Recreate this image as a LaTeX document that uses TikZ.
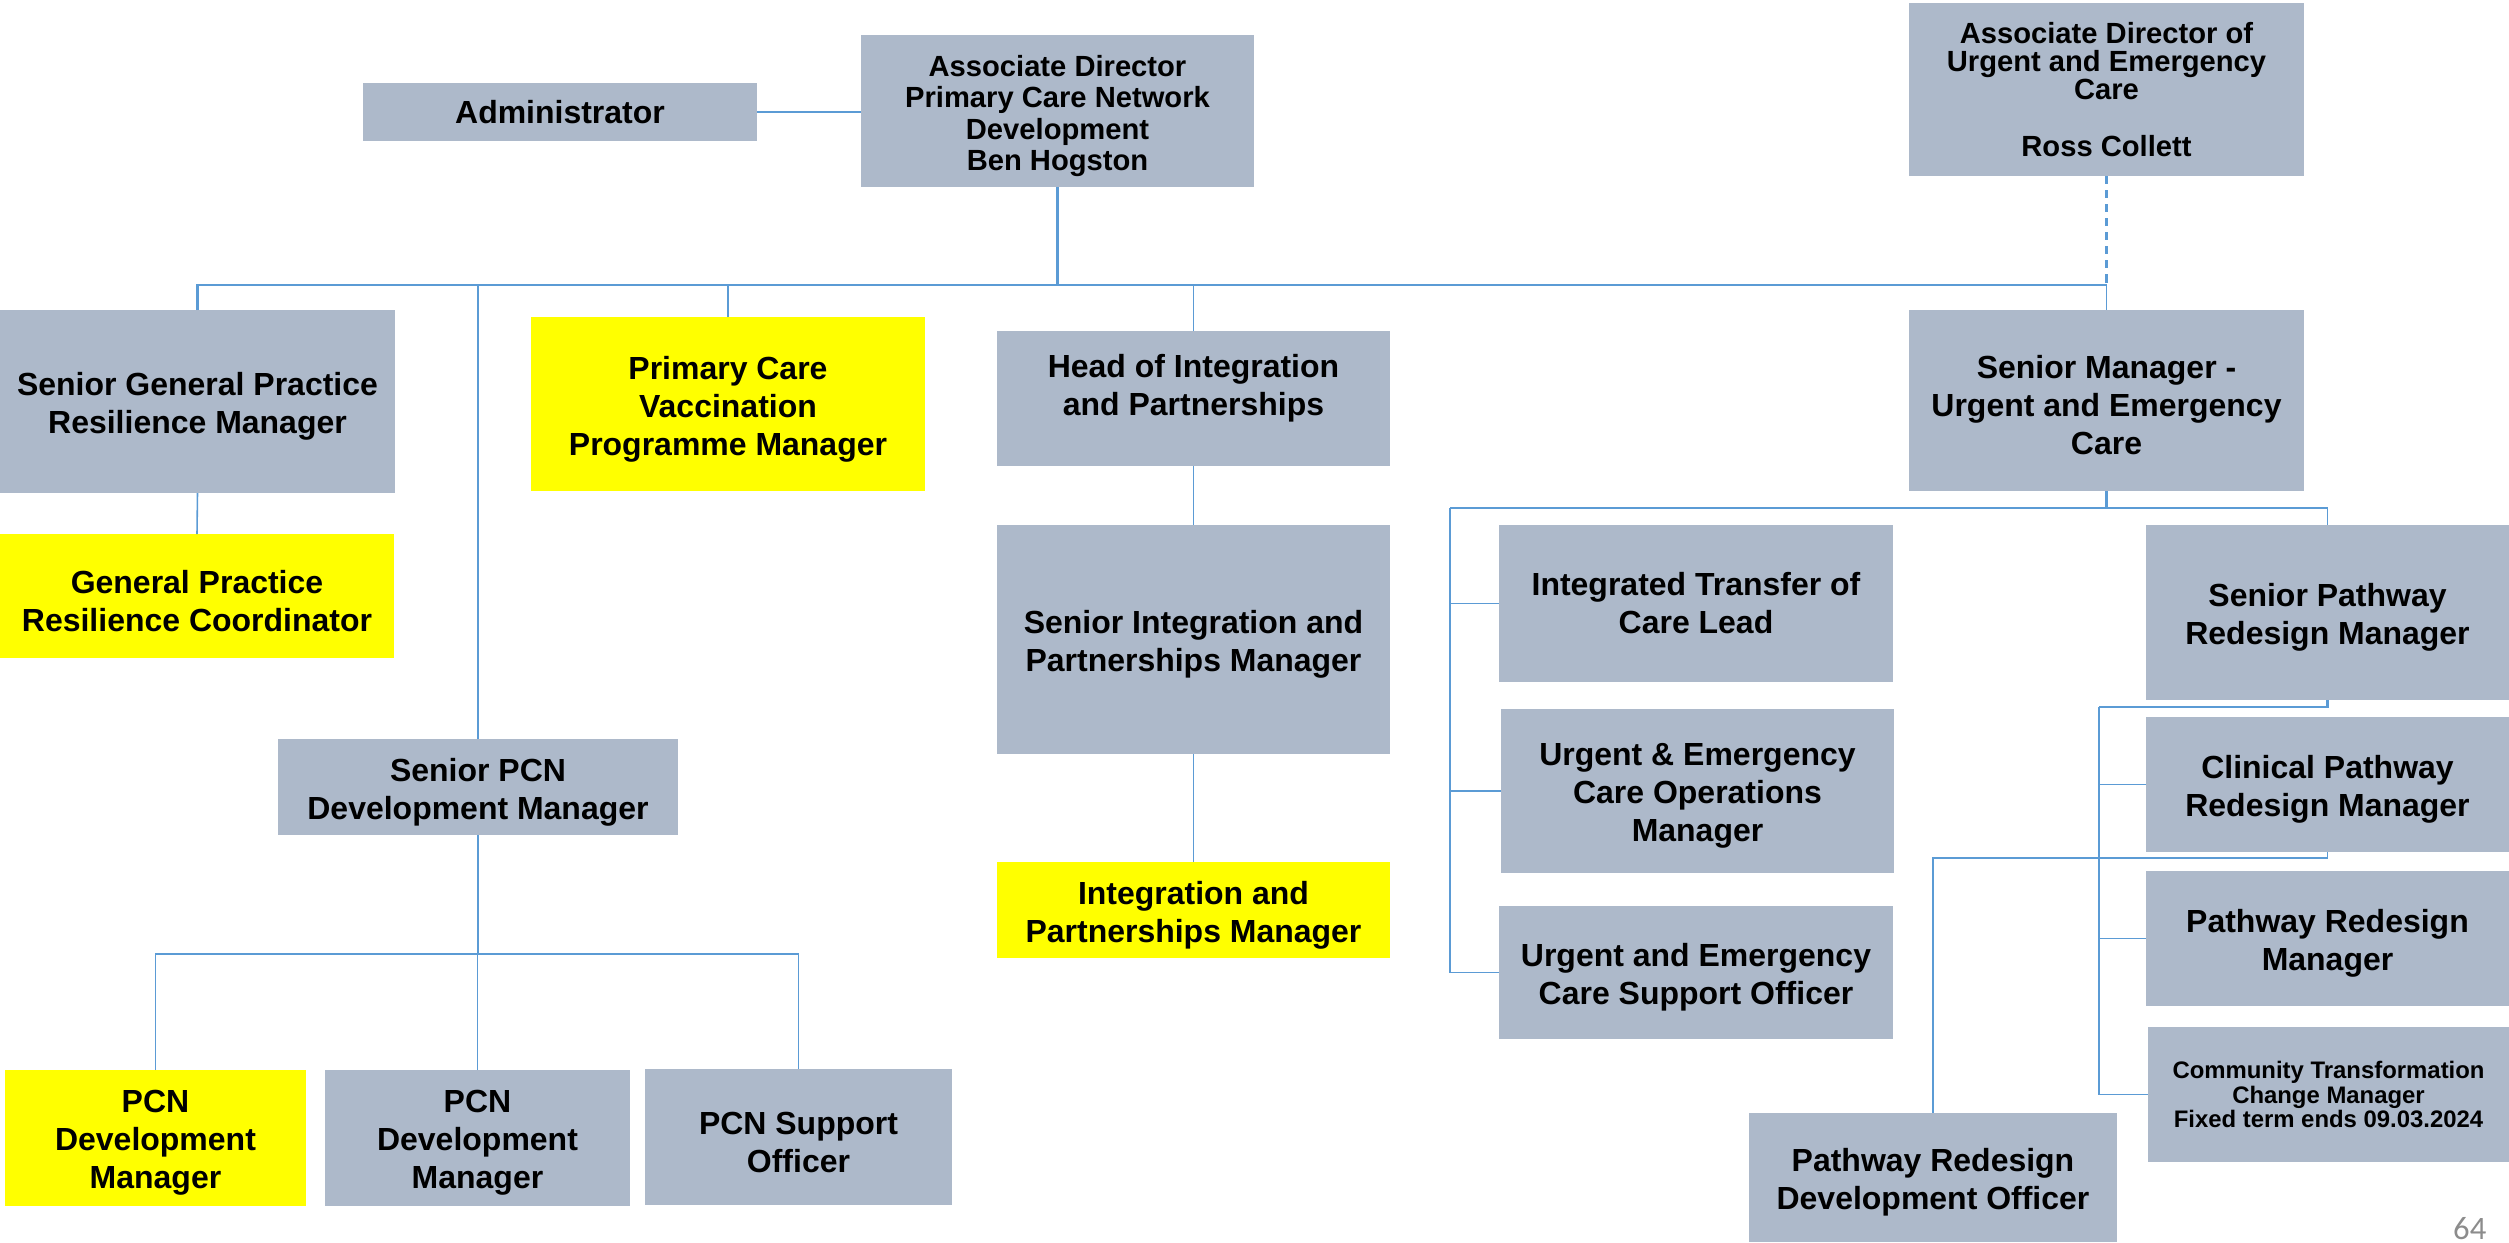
\documentclass[tikz,border=0pt]{standalone}
\usepackage{fontspec}
\setmainfont{Liberation Sans}
\newfontfamily\pgnum{Carlito}
\usepackage{xcolor}
\usepackage{tikz}
\usetikzlibrary{calc}
\definecolor{boxg}{HTML}{ADB9CA}
\definecolor{boxy}{HTML}{FFFF00}
\definecolor{linec}{HTML}{5B9BD5}
\definecolor{pgc}{HTML}{8C8C8C}
\tikzset{
  gb/.style={rectangle,fill=boxg,inner sep=1pt,outer sep=0pt,align=center,font=\bfseries\fontsize{9.1}{10.8}\selectfont},
  yb/.style={gb,fill=boxy},
  tx/.style={yshift=-0.5mm},
  ns/.style={tx/.style={}},
  sm/.style={font=\bfseries\fontsize{8.3}{9}\selectfont},
  xs/.style={ns,font=\bfseries\fontsize{8.3}{8}\selectfont},
  tn/.style={ns,font=\bfseries\fontsize{6.8}{6.9}\selectfont},
  ln/.style={draw=linec,line width=0.45pt},
  lnb/.style={ln,line width=0.7pt}
}
% name, style, x1, y1, x2, y2, text
\newcommand{\role}[7]{%
  \node[#2,minimum width={(#5-#3)*0.1mm},minimum height={(#6-#4)*0.1mm}] (#1) at ({(#3+#5)/2},{(#4+#6)/2}) {};
  \node[#2,fill=none,tx] at (#1.center) {#7};}

\begin{document}
\begin{tikzpicture}[x=0.1mm,y=-0.1mm]
\useasboundingbox (0,0) rectangle (2509,1242);
\role{adm}{gb,ns}{363}{83}{757}{141}{Administrator}
\role{ben}{gb,sm}{861}{35}{1254}{187}{Associate Director\\Primary Care Network\\Development\\Ben Hogston}
\role{aduec}{gb,xs}{1909}{3}{2304}{176}{Associate Director of\\Urgent and Emergency\\Care\\[8pt]Ross Collett}
\role{sgp}{gb}{0}{310}{395}{493}{Senior General Practice\\Resilience Manager}
\role{vac}{yb}{531}{317}{925}{491}{Primary Care\\Vaccination\\Programme Manager}
\role{hoi}{gb}{997}{331}{1390}{466}{Head of Integration\\and Partnerships\\\mbox{}}
\role{smuec}{gb}{1909}{310}{2304}{491}{Senior Manager -\\Urgent and Emergency\\Care}
\role{gpc}{yb}{0}{534}{394}{658}{General Practice\\Resilience Coordinator}
\role{sip}{gb}{997}{525}{1390}{754}{Senior Integration and\\Partnerships Manager}
\role{spcn}{gb}{278}{739}{678}{835}{Senior PCN\\Development Manager}
\role{ipm}{yb}{997}{862}{1390}{958}{Integration and\\Partnerships Manager}
\role{pd1}{yb}{5}{1070}{306}{1206}{PCN\\Development\\Manager}
\role{pd2}{gb}{325}{1070}{630}{1206}{PCN\\Development\\Manager}
\role{pso}{gb}{645}{1069}{952}{1205}{PCN Support\\Officer}
\role{itc}{gb,ns}{1499}{525}{1893}{682}{Integrated Transfer of\\Care Lead}
\role{ops}{gb}{1501}{709}{1894}{873}{Urgent \& Emergency\\Care Operations\\Manager}
\role{ueso}{gb}{1499}{906}{1893}{1039}{Urgent and Emergency\\Care Support Officer}
\role{spr}{gb}{2146}{525}{2509}{700}{Senior Pathway\\Redesign Manager}
\role{cpr}{gb}{2146}{717}{2509}{852}{Clinical Pathway\\Redesign Manager}
\role{prm}{gb}{2146}{871}{2509}{1006}{Pathway Redesign\\Manager}
\role{ctc}{gb,tn}{2148}{1027}{2509}{1162}{Community Transformation\\Change Manager\\Fixed term ends 09.03.2024}
\role{prdo}{gb}{1749}{1113}{2117}{1242}{Pathway Redesign\\Development Officer}
\node[font=\pgnum\fontsize{9.3}{9.3}\selectfont,text=pgc,anchor=base east,inner sep=0pt] (pg) at (2487,1239) {64};
% top level
\coordinate (bus) at (0,285);
\draw[ln] (adm.east) -- (adm.east -| ben.west);
\draw[lnb] (ben.south) -- (ben.south |- bus);
\draw[lnb] (sgp.north) |- (smuec.north |- bus);
\draw[ln] (spcn.north) -- (spcn.north |- bus);
\draw[ln] (vac.north) -- (vac.north |- bus);
\draw[ln] (hoi.north) -- (hoi.north |- bus);
\draw[ln,line width=0.65pt,dash pattern=on 2.3pt off 1.7pt] (aduec.south) -- (smuec.north |- bus);
\draw[ln] (smuec.north |- bus) -- (smuec.north);
\draw[ln] (sgp.south) -- (gpc.north);
\draw[ln] (hoi.south) -- (sip.north);
\draw[ln] (sip.south) -- (ipm.north);
% pcn
\coordinate (pb) at (0,954);
\draw[ln] (spcn.south) -- (spcn.south |- pb);
\draw[ln] (pd1.north) |- (spcn.south |- pb) -| (pso.north);
\draw[ln] (pd2.north) -- (pd2.north |- pb);
% urgent and emergency care
\coordinate (ul) at (1450,508);
\draw[lnb] (smuec.south) |- (ul);
\draw[ln] (smuec.south |- ul) -| (spr.north);
\draw[ln] (ul) |- (itc.west);
\draw[ln] (ul) |- (ops.west);
\draw[ln] (ul) |- (ueso.west);
\coordinate (pl) at (2099,707);
\draw[lnb] (spr.south) |- (pl);
\draw[ln] (pl) |- (cpr.west);
\draw[ln] (pl) |- (prm.west);
\draw[ln] (pl) |- (ctc.west);
\coordinate (pk) at (0,858);
\draw[ln] (cpr.south) -- (cpr.south |- pk) -| (prdo.north);
\end{tikzpicture}
\end{document}
